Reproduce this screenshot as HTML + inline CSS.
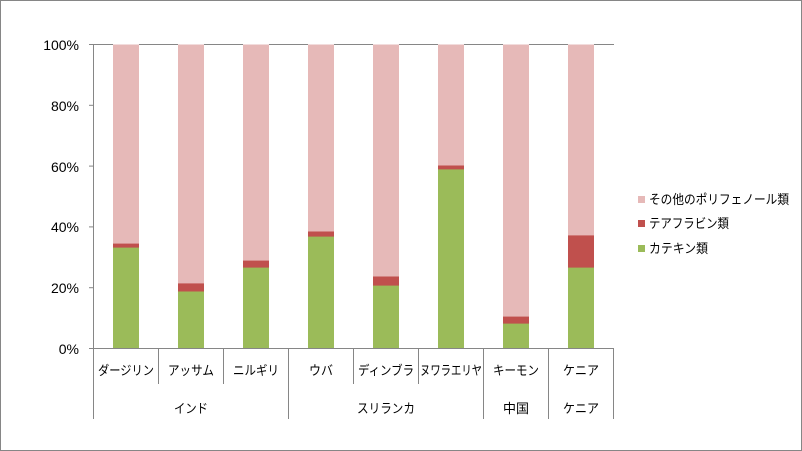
<!DOCTYPE html>
<html><head><meta charset="utf-8"><style>
html,body{margin:0;padding:0;background:#fff}
svg{display:block;font-family:"Liberation Sans","Noto Sans CJK JP",sans-serif}
</style></head><body>
<svg width="802" height="451" viewBox="0 0 802 451" xmlns="http://www.w3.org/2000/svg">
<rect x="0.5" y="0.5" width="801" height="450" fill="#fff" stroke="#868686"/>
<g fill="#e6b9b8">
<rect x="113" y="44.5" width="26" height="304"/><rect x="178" y="44.5" width="26" height="304"/>
<rect x="243" y="44.5" width="26" height="304"/><rect x="308" y="44.5" width="26" height="304"/>
<rect x="373" y="44.5" width="26" height="304"/><rect x="438" y="44.5" width="26" height="304"/>
<rect x="503" y="44.5" width="26" height="304"/><rect x="568" y="44.5" width="26" height="304"/>
</g>
<g fill="#c0504d">
<rect x="113" y="243.6" width="26" height="104.9"/><rect x="178" y="283.4" width="26" height="65.1"/>
<rect x="243" y="260.6" width="26" height="87.9"/><rect x="308" y="231.5" width="26" height="117"/>
<rect x="373" y="276.5" width="26" height="72"/><rect x="438" y="165.5" width="26" height="183"/>
<rect x="503" y="316.6" width="26" height="31.9"/><rect x="568" y="235.4" width="26" height="113.1"/>
</g>
<g fill="#9bbb59">
<rect x="113" y="247.6" width="26" height="100.9"/><rect x="178" y="291.5" width="26" height="57"/>
<rect x="243" y="267.6" width="26" height="80.9"/><rect x="308" y="236.6" width="26" height="111.9"/>
<rect x="373" y="285.6" width="26" height="62.9"/><rect x="438" y="169.4" width="26" height="179.1"/>
<rect x="503" y="323.6" width="26" height="24.9"/><rect x="568" y="267.6" width="26" height="80.9"/>
</g>
<g stroke="#868686" stroke-width="1" fill="none">
<line x1="93.5" y1="44.5" x2="113" y2="44.5"/><line x1="139" y1="44.5" x2="178" y2="44.5"/>
<line x1="204" y1="44.5" x2="243" y2="44.5"/><line x1="269" y1="44.5" x2="308" y2="44.5"/>
<line x1="334" y1="44.5" x2="373" y2="44.5"/><line x1="399" y1="44.5" x2="438" y2="44.5"/>
<line x1="464" y1="44.5" x2="503" y2="44.5"/><line x1="529" y1="44.5" x2="568" y2="44.5"/>
<line x1="594" y1="44.5" x2="614" y2="44.5"/>
<line x1="93.5" y1="44.5" x2="93.5" y2="419"/>
<line x1="89" y1="44.5" x2="93.5" y2="44.5"/>
<line x1="89" y1="105.3" x2="93.5" y2="105.3"/>
<line x1="89" y1="166.1" x2="93.5" y2="166.1"/>
<line x1="89" y1="226.9" x2="93.5" y2="226.9"/>
<line x1="89" y1="287.7" x2="93.5" y2="287.7"/>
<line x1="89" y1="348.5" x2="614" y2="348.5"/>
<line x1="158.5" y1="348.5" x2="158.5" y2="384"/>
<line x1="223.5" y1="348.5" x2="223.5" y2="384"/>
<line x1="288.5" y1="348.5" x2="288.5" y2="419"/>
<line x1="353.5" y1="348.5" x2="353.5" y2="384"/>
<line x1="418.5" y1="348.5" x2="418.5" y2="384"/>
<line x1="483.5" y1="348.5" x2="483.5" y2="419"/>
<line x1="548.5" y1="348.5" x2="548.5" y2="419"/>
<line x1="613.5" y1="348.5" x2="613.5" y2="419"/>
</g>
<g font-size="14" fill="#000" text-anchor="end">
<text x="79" y="50">100%</text><text x="79" y="111">80%</text><text x="79" y="172">60%</text>
<text x="79" y="232">40%</text><text x="79" y="293">20%</text><text x="79" y="354">0%</text>
</g>
<g font-size="13" fill="#000" text-anchor="middle" lengthAdjust="spacingAndGlyphs">
<text x="126" y="375" textLength="56" lengthAdjust="spacingAndGlyphs">ダージリン</text>
<text x="191" y="375" textLength="46" lengthAdjust="spacingAndGlyphs">アッサム</text>
<text x="256" y="375" textLength="46" lengthAdjust="spacingAndGlyphs">ニルギリ</text>
<text x="321" y="375" textLength="24" lengthAdjust="spacingAndGlyphs">ウバ</text>
<text x="386" y="375" textLength="56" lengthAdjust="spacingAndGlyphs">ディンブラ</text>
<text x="451" y="375" textLength="62" lengthAdjust="spacingAndGlyphs">ヌワラエリヤ</text>
<text x="516" y="375" textLength="46" lengthAdjust="spacingAndGlyphs">キーモン</text>
<text x="581" y="375" textLength="36" lengthAdjust="spacingAndGlyphs">ケニア</text>
<text x="191" y="413" textLength="34" lengthAdjust="spacingAndGlyphs">インド</text>
<text x="386" y="413" textLength="58" lengthAdjust="spacingAndGlyphs">スリランカ</text>
<text x="516" y="413" textLength="26" lengthAdjust="spacingAndGlyphs">中国</text>
<text x="581" y="413" textLength="36" lengthAdjust="spacingAndGlyphs">ケニア</text>
</g>
<rect x="638" y="196" width="7" height="7" fill="#e6b9b8"/>
<rect x="638" y="220" width="7" height="7" fill="#c0504d"/>
<rect x="638" y="245" width="7" height="7" fill="#9bbb59"/>
<g font-size="13" fill="#000">
<text x="649" y="204" textLength="140" lengthAdjust="spacingAndGlyphs">その他のポリフェノール類</text>
<text x="649" y="228" textLength="80" lengthAdjust="spacingAndGlyphs">テアフラビン類</text>
<text x="649" y="253" textLength="59" lengthAdjust="spacingAndGlyphs">カテキン類</text>
</g>
</svg>
</body></html>
